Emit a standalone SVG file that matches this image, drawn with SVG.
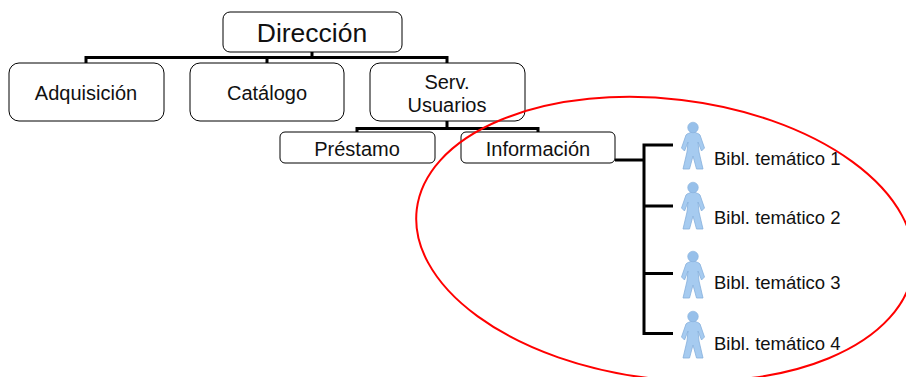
<svg xmlns="http://www.w3.org/2000/svg" width="906" height="377" viewBox="0 0 906 377">
<style>
.b{fill:#fff;stroke:#000;stroke-width:1}
.c{fill:none;stroke:#000;stroke-width:3}
text{font-family:"Liberation Sans",Arial,sans-serif;fill:#111}
.m{text-anchor:middle;font-size:20px}
.l{font-size:18.500px}
</style>
<defs>
<g id="person">
<path d="M12 9.500C9 11 6 11.500 5 13L0.500 26L3.500 29L7 20L6 30L2 47H8.500L12 34L15.500 47H22L18 30L17 20L20.500 29L23.500 26L19 13C18 11.500 15 11 12 9.500Z" fill="#a6cbf0" stroke="#86b0dc" stroke-width="0.800"/>
<circle cx="12" cy="5.500" r="5.300" fill="#97c0ea" stroke="#86b0dc" stroke-width="0.600"/>
</g>
</defs>
<g id="connectors">
<path class="c" d="M312 52V57M86 63V57.500H447V63M267 57V63"/>
<path class="c" d="M447 121V128M357 132V128.500H538V132"/>
<path class="c" d="M615 160H644M673 145H644V333.500H673M644 206H673M644 273.500H673"/>
</g>
<g id="direccion"><rect class="b" x="223" y="12" width="179" height="40" rx="7"/><text x="312" y="42" text-anchor="middle" font-size="26.500">Dirección</text></g>
<g id="adquisicion"><rect class="b" x="9" y="63" width="155" height="58" rx="10"/><text class="m" x="86" y="100">Adquisición</text></g>
<g id="catalogo"><rect class="b" x="190" y="63" width="154" height="58" rx="10"/><text class="m" x="267" y="100">Catálogo</text></g>
<g id="serv"><rect class="b" x="370" y="63" width="155" height="58" rx="10"/><text class="m" x="447" y="89">Serv.</text><text class="m" x="447" y="112">Usuarios</text></g>
<g id="prestamo"><rect class="b" x="280" y="132" width="155" height="31" rx="5"/><text class="m" x="357" y="156">Préstamo</text></g>
<g id="informacion"><rect class="b" x="461" y="132" width="154" height="31" rx="5"/><text class="m" x="538" y="156">Información</text></g>
<g id="b1"><use href="#person" x="681" y="122"/><text class="l" x="714" y="165">Bibl. temático 1</text></g>
<g id="b2"><use href="#person" x="681" y="182"/><text class="l" x="714" y="224">Bibl. temático 2</text></g>
<g id="b3"><use href="#person" x="681" y="251"/><text class="l" x="714" y="289">Bibl. temático 3</text></g>
<g id="b4"><use href="#person" x="681" y="311"/><text class="l" x="714" y="350">Bibl. temático 4</text></g>
<ellipse id="ring" cx="665" cy="239" rx="250" ry="140" transform="rotate(6.800 665 239)" fill="none" stroke="#f00" stroke-width="2"/>
</svg>
